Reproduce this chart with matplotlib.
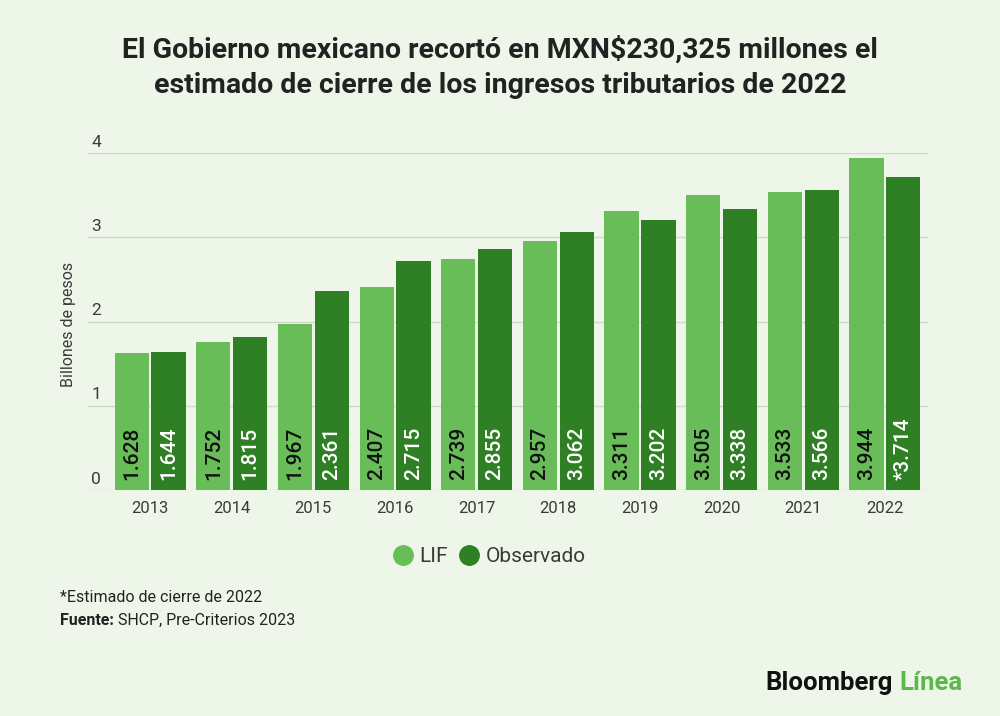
import numpy as np
import matplotlib.pyplot as plt
import matplotlib.transforms as mtransforms
from matplotlib.lines import Line2D

years = ["2013", "2014", "2015", "2016", "2017", "2018", "2019", "2020", "2021", "2022"]
lif = [1.628, 1.752, 1.967, 2.407, 2.739, 2.957, 3.311, 3.505, 3.533, 3.944]
observado = [1.644, 1.815, 2.361, 2.715, 2.855, 3.062, 3.202, 3.338, 3.566, 3.714]
obs_labels = ["1.644", "1.815", "2.361", "2.715", "2.855", "3.062", "3.202", "3.338", "3.566", "*3.714"]
yticks = [0, 1, 2, 3, 4]

bg = "#eef6ea"
c_lif = "#68bd58"
c_obs = "#2f7f24"
grid_c = "#d0d8cc"
txt = "#3a3a3a"

plt.rcParams["font.family"] = ["Roboto", "DejaVu Sans"]

fig = plt.figure(figsize=(10, 7.16), dpi=100, facecolor=bg)
ax = fig.add_axes([0.088, 0.3156, 0.840, 0.4707])
ax.set_facecolor(bg)

x = np.arange(len(years))
w = 0.42
off = 0.225
ax.bar(x - off, lif, w, color=c_lif, zorder=3)
ax.bar(x + off, observado, w, color=c_obs, zorder=3)

for xi, v in zip(x, lif):
    ax.text(xi - off, 0.12, f"{v:.3f}", rotation=90, ha="center", va="bottom",
            fontsize=15, fontweight="medium", color="#111111", zorder=4)
for xi, s in zip(x, obs_labels):
    ax.text(xi + off, 0.12, s, rotation=90, ha="center", va="bottom",
            fontsize=15, fontweight="medium", color="white", zorder=4)

ax.set_xlim(-0.76, 9.527)
ax.set_ylim(0, 4)
ax.set_yticks(yticks)
ax.set_yticklabels([])
ax.set_xticks(x)
ax.set_xticklabels(years)
ax.yaxis.grid(True, color=grid_c, linewidth=1, zorder=0)
ax.set_axisbelow(True)
for s in ax.spines.values():
    s.set_visible(False)
ax.tick_params(length=0, colors=txt, labelsize=12)
ax.tick_params(axis="x", pad=8)

# y tick labels sit above the gridlines at the left edge
trans = mtransforms.blended_transform_factory(ax.transAxes, ax.transData)
for t in yticks:
    ax.text(0.004, t + 0.04, str(t), transform=trans, ha="left", va="bottom",
            fontsize=12.5, color=txt)

fig.text(0.068, 1 - 324 / 716, "Billones de pesos", rotation=90, ha="center", va="center",
         fontsize=11.5, color=txt)

fig.text(0.5, 0.906, "El Gobierno mexicano recortó en MXN$230,325 millones el\n"
         "estimado de cierre de los ingresos tributarios de 2022",
         ha="center", va="center", fontsize=20.5, fontweight="bold",
         color="#222222", linespacing=1.4)

h1 = Line2D([], [], marker="o", linestyle="", color=c_lif, markersize=14)
h2 = Line2D([], [], marker="o", linestyle="", color=c_obs, markersize=14)
leg = fig.legend([h1, h2], ["LIF", "Observado"], loc="center", bbox_to_anchor=(0.49, 0.223),
                 ncol=2, frameon=False, fontsize=15, handlelength=0.8,
                 handletextpad=0.4, columnspacing=0.6)
for t in leg.get_texts():
    t.set_color(txt)

fig.text(0.06, 0.166, "*Estimado de cierre de 2022", fontsize=11.5, color="#222222", va="center")
f1 = fig.text(0.06, 0.134, "Fuente:", fontsize=11.5, fontweight="bold", color="#222222", va="center")
fig.canvas.draw()
bb = f1.get_window_extent()
fig.text(bb.x1 / fig.bbox.width + 0.004, 0.134, "SHCP, Pre-Criterios 2023", fontsize=11.5,
         color="#222222", va="center")

t1 = fig.text(0.765, 0.046, "Bloomberg", fontsize=18.5, fontweight="bold", color="#111111", va="center")
fig.canvas.draw()
bb = t1.get_window_extent()
fig.text(bb.x1 / fig.bbox.width + 0.007, 0.046, "Línea", fontsize=18.5, fontweight="bold",
         color="#5cb84a", va="center")

fig.savefig("out.png", dpi=100, facecolor=bg)
